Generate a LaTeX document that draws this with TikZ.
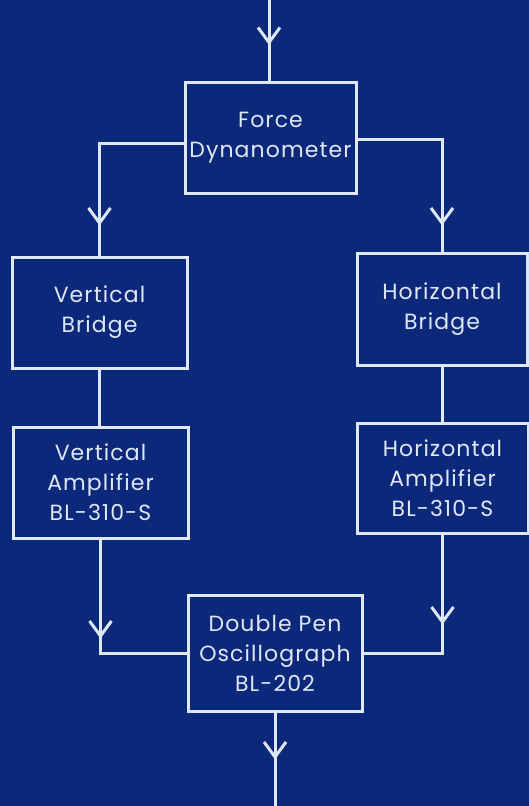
\documentclass[tikz,border=0pt]{standalone}
\usepackage{fontspec}
\setmainfont{Poppins}[LetterSpace=5]
\usetikzlibrary{arrows.meta,decorations.markings}
\definecolor{bp}{RGB}{12,40,122}
\definecolor{ink}{RGB}{222,232,248}
\begin{document}
\begin{tikzpicture}[x=1pt,y=-1pt,
  box/.style={draw=ink, line width=3pt, text=ink, inner sep=0pt, align=center,
    font=\fontsize{22}{30}\selectfont},
  wire/.style={draw=ink, line width=3pt},
  chev/.style={postaction={decorate}, decoration={markings,
    mark=at position #1 with {\arrow{Straight Barb[length=15pt,width=22pt,line width=3pt]}}}}]
\fill[bp] (0,0) rectangle (529,806);
\useasboundingbox (0,0) rectangle (529,806);
\node[box, minimum width=171pt, minimum height=111pt] (fd) at (270.5,137.5) {Force\\Dynanometer};
\node[box, minimum width=175pt, minimum height=111pt] (vb) at (99.5,312.5) {Vertical\\Bridge};
\node[box, minimum width=170pt, minimum height=112pt] (hb) at (442,309) {Horizontal\\Bridge};
\node[box, minimum width=175pt, minimum height=111pt] (va) at (100.5,482.5) {Vertical\\Amplifier\\BL-310-S};
\node[box, minimum width=171pt, minimum height=110pt] (ha) at (442.5,478) {Horizontal\\Amplifier\\BL-310-S};
\node[box, minimum width=174pt, minimum height=116pt] (osc) at (275,653) {Double Pen\\Oscillograph\\BL-202};
\coordinate (top) at (269,0);
\coordinate (bot) at (274,806);
\draw[wire, chev=45pt] (top) -- (top |- fd.north);
\draw[wire, chev=-30pt] ([yshift=-5.5pt]fd.west) -| (vb.north);
\draw[wire, chev=-26pt] ([yshift=-1.5pt]fd.east) -| (hb.north);
\draw[wire] (vb.south) -- (vb.south |- va.north);
\draw[wire] (hb.south) -- (hb.south |- ha.north);
\draw[wire, chev=99pt] (va.south) |- (osc.west);
\draw[wire, chev=90pt] (ha.south) |- (osc.east);
\draw[wire, chev=47pt] (osc.south) -- (osc.south |- bot);
\end{tikzpicture}
\end{document}
